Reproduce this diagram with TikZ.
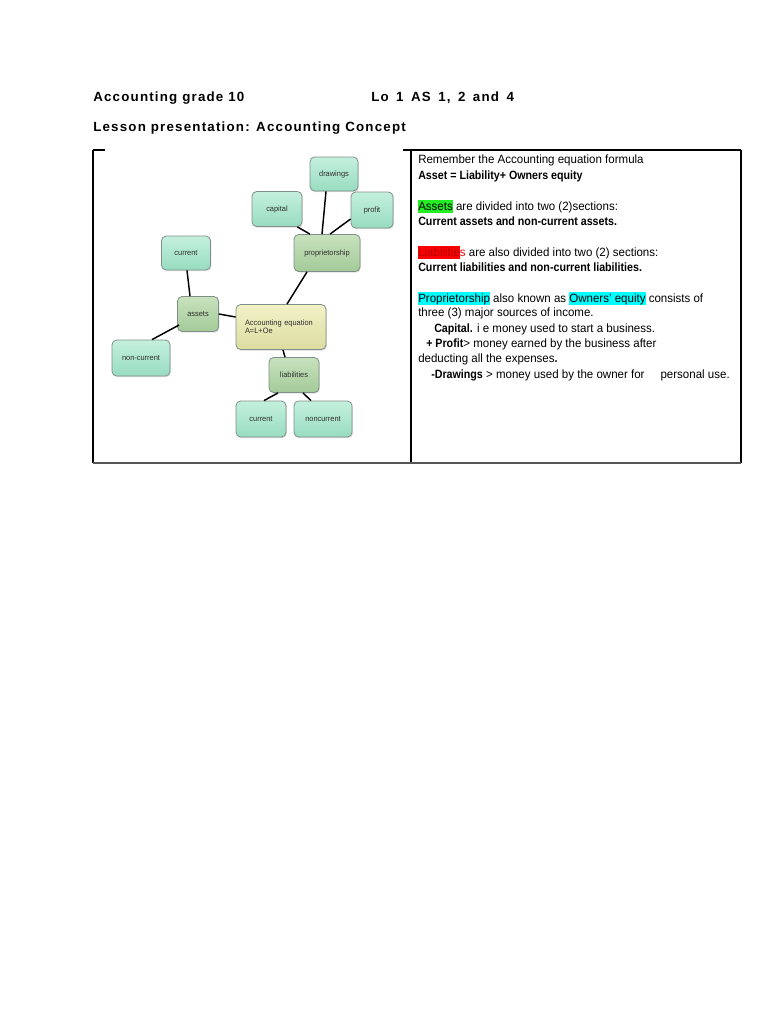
\documentclass[tikz,border=0pt]{standalone}
\usepackage{fontspec}
\setmainfont{Liberation Sans}[FakeStretch=0.96, BoldFeatures={FakeStretch=0.89}]
\newfontfamily\headfont{Liberation Sans}[LetterSpace=9]
\usetikzlibrary{shadows,calc,backgrounds}
\definecolor{hlgreen}{HTML}{22EE22}
\definecolor{hlred}{HTML}{FF0000}
\definecolor{libtext}{HTML}{B00000}
\definecolor{hlcyan}{HTML}{00FFFF}
\definecolor{leafTop}{HTML}{C4F0DE}
\definecolor{leafBot}{HTML}{98DCC0}
\definecolor{midTop}{HTML}{C8E2BE}
\definecolor{midBot}{HTML}{A4CA98}
\definecolor{ctrTop}{HTML}{F2F2C8}
\definecolor{ctrBot}{HTML}{DCDCA0}
\definecolor{boxborder}{HTML}{7E9088}
\definecolor{nodetext}{HTML}{303030}
\definecolor{bottomline}{HTML}{555555}
\newcommand{\hl}[2]{\begingroup\setlength{\fboxsep}{0pt}\colorbox{#1}{\rule[-0.22em]{0pt}{1.08em}#2}\endgroup}
\newcommand{\wsp}{\hspace{5.6pt}}
\begin{document}
\begin{tikzpicture}[x=0.75pt,y=-0.75pt,
  wh/.style 2 args={minimum width=#1*0.75pt, minimum height=#2*0.75pt},
  mapbox/.style={rounded corners=3.5pt, draw=boxborder, line width=0.6pt,
     inner sep=0pt, text=nodetext, font=\fontsize{5.8}{6}\selectfont,
     drop shadow={shadow xshift=0.7pt, shadow yshift=-0.9pt, opacity=0.25}},
  leaf/.style={mapbox, top color=leafTop, bottom color=leafBot},
  mid/.style={mapbox, top color=midTop, bottom color=midBot},
  ctr/.style={mapbox, top color=ctrTop, bottom color=ctrBot},
  link/.style={line width=1.1pt, black},
  head/.style={inner sep=0pt, anchor=base west, font=\headfont\bfseries\fontsize{10}{12}\selectfont},
  body/.style={inner sep=0pt, anchor=base west, font=\fontsize{9}{11}\selectfont},
  cell/.style={line width=0.8pt, black}
]
\useasboundingbox (0,0) rectangle (768,1024);
\fill[white] (0,0) rectangle (768,1024);

% headings
\node[head] (h1) at (93,101) {Accounting grade 10};
\node[head] (h2) at (371,101) {Lo\wsp1\wsp AS\wsp1,\wsp2\wsp and\wsp4};
\node[head] (h3) at (93,132) {Lesson presentation: Accounting Concept};

% table
\coordinate (tl) at (93,150);
\coordinate (tm) at (411,150);
\coordinate (tr) at (741,150);
\coordinate (bl) at (93,463);
\coordinate (bm) at (411,463);
\coordinate (br) at (741,463);
\draw[cell] (tl) -- (bl);
\draw[cell] (tm) -- (bm);
\draw[cell] (tr) -- (br);
\draw[cell] ($(tm)+(-8,0)$) -- (tr);
\draw[cell] (tl) -- ($(tl)+(12,0)$);
\draw[line width=1.1pt, bottomline] (bl) -- (br);

% mind map
\node[leaf, wh={48}{34}] (drawings) at (334,174) {drawings};
\node[leaf, wh={50}{35}] (capital) at (277,209) {capital};
\node[leaf, wh={42}{36}] (profit) at (372,210) {profit};
\node[mid, wh={66}{37}] (prop) at (327,253) {proprietorship};
\node[leaf, wh={49}{34}] (curL) at (186,253) {current};
\node[mid, wh={41}{35}] (assets) at (198,314) {assets};
\node[ctr, wh={90}{45}, text width=72*0.75pt, align=left, font=\fontsize{5.8}{6.2}\selectfont] (ae) at (281,327) {Accounting equation\\A=L+Oe};
\node[leaf, wh={58}{36}] (noncurL) at (141,358) {non-current};
\node[mid, wh={50}{35}] (liab) at (294,375) {liabilities};
\node[leaf, wh={50}{36}] (curB) at (261,419) {current};
\node[leaf, wh={58}{36}] (noncurB) at (323,419) {noncurrent};

\draw[link] ($(drawings.south)+(-8,0)$) -- ($(prop.north)+(-5,0)$);
\draw[link] ($(capital.south east)+(-5,0)$) -- ($(prop.north)+(-17,0)$);
\draw[link] ($(profit.west)+(0,9)$) -- ($(prop.north)+(3,0)$);
\draw[link] ($(prop.south)+(-20,0)$) -- ($(ae.north)+(6,0)$);
\draw[link] ($(curL.south)+(1,0)$) -- ($(assets.north)+(-8,0)$);
\draw[link] (assets.east) -- ($(ae.west)+(0,-10)$);
\draw[link] ($(assets.west)+(2,11)$) -- ($(noncurL.north)+(11,0)$);
\draw[link] ($(ae.south)+(2,0)$) -- ($(liab.north)+(-9,0)$);
\draw[link] ($(liab.south)+(-16,0)$) -- ($(curB.north)+(3,0)$);
\draw[link] ($(liab.south)+(9,0)$) -- ($(noncurB.north)+(-12,0)$);

% right cell text
\node[body] (t1) at (418,163) {Remember the Accounting equation formula};
\node[body] (t2) at (418,179) {\textbf{Asset = Liability+ Owners equity}};
\node[body] (t3) at (418,210) {\hl{hlgreen}{Assets} are divided into two (2)sections:};
\node[body] (t4) at (418,225) {\textbf{Current assets and non-current assets.}};
\node[body] (t5) at (418,256) {\hl{hlred}{\textcolor{libtext}{Liabilitie}}\textcolor{hlred}{s} are also divided into two (2) sections:};
\node[body] (t6) at (418,271) {\textbf{Current liabilities and non-current liabilities.}};
\node[body] (t7) at (418,302) {\hl{hlcyan}{Proprietorship} also known as \hl{hlcyan}{Owners’ equity} consists of};
\node[body] (t8) at (418,316) {three (3) major sources of income.};
\node[body] (t9) at (434,332) {\textbf{Capital.} i e money used to start a business.};
\node[body] (t10) at (426,347) {\textbf{+ Profit}> money earned by the business after};
\node[body] (t11) at (418,362) {deducting all the expenses\textbf{.}};
\node[body] (t12) at (431,378) {\textbf{-Drawings} > money used by the owner for\hspace{12pt}personal use.};
\end{tikzpicture}
\end{document}
